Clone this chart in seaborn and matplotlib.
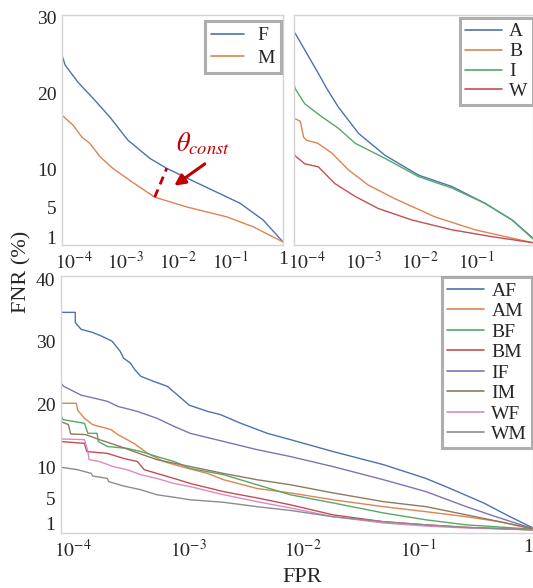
import numpy as np
import pandas as pd
import matplotlib
matplotlib.use('Agg')
import matplotlib.pyplot as plt
import seaborn as sns

# -- Data (x stored as log10 FPR, y as FNR in %) ------------------------------
GENDER_LABELS = ['F', 'M']
F_LOGX = [-4.22, -4.16, -3.91, -3.65, -3.30, -2.96, -2.54, -2.22, -1.83, -1.34, -0.82, -0.38, 0.0]
F_FNR  = [25.0, 23.7, 21.4, 19.5, 16.8, 13.8, 11.4, 10.1, 8.8, 7.2, 5.5, 3.3, 0.4]
M_LOGX = [-4.22, -4.01, -3.84, -3.69, -3.49, -3.25, -2.86, -2.45, -1.83, -1.07, -0.57, 0.0]
M_FNR  = [17.1, 15.8, 14.2, 13.4, 11.6, 10.1, 8.2, 6.3, 5.0, 3.7, 2.4, 0.4]

ETHNIC_LABELS = ['A', 'B', 'I', 'W']
A_LOGX = [-4.22, -4.20, -4.03, -3.82, -3.64, -3.44, -3.08, -2.61, -2.02, -1.43, -0.85, -0.37, 0.0]
A_FNR  = [28.0, 27.9, 25.7, 23.0, 20.6, 18.2, 14.7, 11.8, 9.2, 7.7, 5.5, 3.3, 0.9]
B_LOGX = [-4.22, -4.11, -4.05, -4.00, -3.80, -3.55, -3.26, -2.91, -2.44, -1.73, -1.02, -0.37, 0.0]
B_FNR  = [16.7, 16.3, 14.2, 13.8, 13.4, 12.1, 9.9, 7.9, 6.1, 3.7, 2.0, 0.9, 0.3]
I_LOGX = [-4.22, -4.20, -4.03, -3.73, -3.44, -3.14, -2.61, -2.02, -1.43, -0.85, -0.37, 0.0]
I_FNR  = [21.3, 20.6, 18.6, 16.9, 15.4, 13.4, 11.4, 9.0, 7.5, 5.5, 3.3, 0.8]
W_LOGX = [-4.22, -4.21, -4.03, -3.79, -3.50, -3.14, -2.73, -2.14, -1.43, -0.73, 0.0]
W_FNR  = [13.2, 11.8, 10.7, 10.3, 8.1, 6.4, 4.8, 3.3, 2.0, 1.1, 0.3]

SUBGROUP_LABELS = ['AF', 'AM', 'BF', 'BM', 'IF', 'IM', 'WF', 'WM']
AF_LOGX = [-4.11, -4.10, -3.98, -3.98, -3.93, -3.83, -3.75, -3.66, -3.59, -3.56, -3.50, -3.46, -3.41, -3.30,
           -3.18, -3.09, -2.99, -2.83, -2.72, -2.54, -2.31, -2.11, -1.74, -1.30, -0.93, -0.72, -0.43, -0.20, 0.0]
AF_FNR  = [36.8, 34.7, 34.7, 33.1, 32.0, 31.5, 30.9, 30.1, 28.5, 27.4, 26.6, 25.5, 24.5, 23.7,
           22.9, 21.5, 19.9, 18.9, 18.4, 17.0, 15.4, 14.4, 12.5, 10.4, 8.2, 6.6, 4.3, 2.1, 0.3]
AM_LOGX = [-4.11, -4.10, -3.97, -3.96, -3.90, -3.83, -3.67, -3.61, -3.47, -3.35, -3.21, -3.06, -2.83, -2.69,
           -2.40, -2.11, -1.74, -1.30, -0.93, -0.58, -0.29, 0.0]
AM_FNR  = [21.3, 20.2, 20.2, 19.1, 17.8, 16.8, 16.0, 15.2, 13.8, 12.2, 10.9, 10.1, 9.0, 8.0,
           6.6, 5.9, 4.8, 3.7, 2.9, 2.1, 1.3, 0.1]
BF_LOGX = [-4.11, -4.09, -3.90, -3.87, -3.79, -3.78, -3.70, -3.53, -3.41, -3.27, -3.12, -2.98, -2.69, -2.40,
           -2.11, -1.74, -1.30, -0.93, -0.58, 0.0]
BF_FNR  = [18.7, 17.6, 17.0, 15.4, 15.4, 14.1, 13.3, 13.0, 12.5, 11.7, 10.9, 9.8, 8.8, 7.2,
           5.6, 4.3, 2.7, 1.6, 0.8, 0.1]
BM_LOGX = [-4.11, -3.90, -3.88, -3.70, -3.56, -3.44, -3.38, -3.27, -3.12, -2.98, -2.69, -2.40, -2.11, -1.74,
           -1.30, -0.93, -0.58, 0.0]
BM_FNR  = [14.1, 13.8, 12.5, 12.2, 11.4, 10.9, 9.6, 9.0, 8.2, 7.4, 6.1, 5.1, 4.0, 2.4,
           1.3, 0.8, 0.4, 0.0]
IF_LOGX = [-4.11, -4.08, -3.93, -3.79, -3.70, -3.61, -3.44, -3.27, -3.12, -2.98, -2.69, -2.40, -2.11, -1.74,
           -1.30, -0.93, -0.58, -0.29, 0.0]
IF_FNR  = [23.5, 22.9, 21.5, 20.9, 20.5, 19.7, 18.9, 17.8, 16.5, 15.4, 14.1, 12.8, 11.7, 10.1,
           8.0, 6.1, 3.7, 1.9, 0.2]
IM_LOGX = [-4.11, -4.04, -4.02, -3.89, -3.77, -3.59, -3.41, -3.27, -2.98, -2.69, -2.40, -2.11, -1.74, -1.30,
           -0.93, -0.58, -0.29, 0.0]
IM_FNR  = [17.3, 16.8, 15.3, 15.2, 14.4, 13.3, 12.1, 11.2, 10.1, 9.0, 8.0, 7.2, 5.9, 4.5,
           3.7, 2.4, 1.3, 0.2]
WF_LOGX = [-4.11, -3.90, -3.87, -3.86, -3.77, -3.65, -3.53, -3.41, -3.27, -3.12, -2.98, -2.69, -2.40, -2.11,
           -1.74, -1.30, -0.93, -0.58, 0.0]
WF_FNR  = [14.5, 14.4, 12.5, 11.2, 10.9, 10.1, 9.6, 8.8, 8.2, 7.4, 6.9, 5.6, 4.5, 3.5,
           2.1, 1.1, 0.6, 0.3, 0.0]
WM_LOGX = [-4.11, -3.96, -3.84, -3.83, -3.70, -3.69, -3.56, -3.41, -3.27, -3.12, -2.98, -2.69, -2.40, -2.11,
           -1.74, -1.30, -0.93, -0.58, 0.0]
WM_FNR  = [10.0, 9.6, 9.0, 8.6, 8.2, 7.7, 7.0, 6.4, 5.6, 5.2, 4.8, 4.4, 3.7, 3.1,
           2.1, 1.3, 0.8, 0.4, 0.0]

XTICKS      = [1e-4, 1e-3, 1e-2, 1e-1, 1]
XTICKLABELS = ['$10^{-4}$', '$10^{-3}$', '$10^{-2}$', '$10^{-1}$', '1']
YTICKS_TOP  = [1, 5, 10, 20, 30]
YTICKS_BOT  = [1, 5, 10, 20, 30, 40]

# -- Style ---------------------------------------------------------------------
sns.set_style('white')
plt.rcParams['font.family'] = ['Liberation Serif', 'DejaVu Serif']
plt.rcParams['mathtext.fontset'] = 'stix'
FS = 14
RED = '#c00000'
palette = sns.color_palette('deep', 8)


def long_df(labels, xs, ys):
    rows = []
    for lab, lx, ly in zip(labels, xs, ys):
        for a, b in zip(lx, ly):
            rows.append({'group': lab, 'fpr': 10 ** a, 'fnr': b})
    return pd.DataFrame(rows)


def style_axis(ax, xmin_log, ylim, yticks, xticks=XTICKS, xlabels=XTICKLABELS, show_ylabels=True):
    ax.set_xscale('log')
    ax.set_xlim(10 ** xmin_log, 1)
    ax.set_ylim(*ylim)
    ax.set_xticks(xticks)
    ax.set_xticklabels(xlabels, fontsize=FS)
    ax.xaxis.set_minor_locator(matplotlib.ticker.NullLocator())
    ax.set_yticks(yticks)
    ax.set_yticklabels([str(v) for v in yticks], fontsize=FS)
    ax.tick_params(length=0, pad=4, labelleft=show_ylabels)
    ax.set_xlabel(''); ax.set_ylabel('')
    for sp in ax.spines.values():
        sp.set_color('#d4d4d4'); sp.set_linewidth(1)


def add_legend(ax, anchor, **kw):
    opts = dict(handlelength=1.9, handletextpad=0.4, labelspacing=0.12, borderpad=0.25)
    opts.update(kw)
    handles, labels = ax.get_legend_handles_labels()
    leg = ax.legend(handles, labels, loc='upper right', bbox_to_anchor=anchor,
                    fontsize=FS, frameon=True, fancybox=False, edgecolor='#9a9a9a',
                    borderaxespad=0, **opts)
    leg.get_frame().set_linewidth(2.2)
    for ln in leg.get_lines():
        ln.set_linewidth(1.2)


fig = plt.figure(figsize=(5.33, 5.88), dpi=100)
W, H = 533, 588
ax1 = fig.add_axes([62 / W, 1 - 245 / H, 221 / W, 230 / H])
ax2 = fig.add_axes([294 / W, 1 - 245 / H, 239 / W, 230 / H])
ax3 = fig.add_axes([61 / W, 1 - 533 / H, 472 / W, 257 / H])

# Top-left: gender
df1 = long_df(GENDER_LABELS, [F_LOGX, M_LOGX], [F_FNR, M_FNR])
sns.lineplot(data=df1, x='fpr', y='fnr', hue='group', palette=palette[:2],
             estimator=None, sort=False, lw=1, ax=ax1)
style_axis(ax1, -4.22, (0, 30.3), YTICKS_TOP)
add_legend(ax1, (0.991, 0.974), handlelength=1.7, handletextpad=0.7,
           labelspacing=0.25, borderpad=0.3)

# theta_const annotation
ax1.plot([10 ** M_LOGX[7], 10 ** F_LOGX[7]], [M_FNR[7], F_FNR[7]],
         ls=(0, (3, 2)), color=RED, lw=2)
ax1.annotate('', xy=(10 ** -2.12, 7.6), xytext=(10 ** -1.45, 10.9),
             arrowprops=dict(arrowstyle='-|>', color=RED, lw=2.2, mutation_scale=16))
ax1.text(10 ** -1.53, 13.4, r'$\theta_{const}$', color=RED, fontsize=19,
         ha='center', va='center')

# Top-right: ethnicity
df2 = long_df(ETHNIC_LABELS, [A_LOGX, B_LOGX, I_LOGX, W_LOGX], [A_FNR, B_FNR, I_FNR, W_FNR])
sns.lineplot(data=df2, x='fpr', y='fnr', hue='group', palette=palette[:4],
             estimator=None, sort=False, lw=1, ax=ax2)
style_axis(ax2, -4.22, (0, 30.3), YTICKS_TOP, xticks=XTICKS[:-1],
           xlabels=XTICKLABELS[:-1], show_ylabels=False)
add_legend(ax2, (0.998, 0.987))

# Bottom: subgroups
df3 = long_df(SUBGROUP_LABELS,
              [AF_LOGX, AM_LOGX, BF_LOGX, BM_LOGX, IF_LOGX, IM_LOGX, WF_LOGX, WM_LOGX],
              [AF_FNR, AM_FNR, BF_FNR, BM_FNR, IF_FNR, IM_FNR, WF_FNR, WM_FNR])
sns.lineplot(data=df3, x='fpr', y='fnr', hue='group', palette=palette,
             estimator=None, sort=False, lw=1, ax=ax3)
style_axis(ax3, -4.104, (-0.5, 40.5), YTICKS_BOT)
ax3.get_xticklabels()[-1].set_horizontalalignment('right')
add_legend(ax3, (0.998, 0.996), labelspacing=0.15)

fig.text(22 / W, 1 - 272 / H, 'FNR (%)', rotation=90, ha='center', va='center', fontsize=16)
fig.text(302 / W, 1 - 578 / H, 'FPR', ha='center', va='center', fontsize=16)

fig.savefig('out.png', dpi=100)
